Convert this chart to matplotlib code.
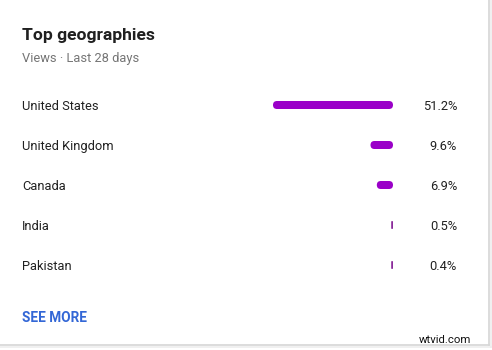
import matplotlib.pyplot as plt
from matplotlib.patches import FancyBboxPatch

countries = ["United States", "United Kingdom", "Canada", "India", "Pakistan"]
shares = [51.2, 9.6, 6.9, 0.5, 0.4]
labels = ["51.2%", "9.6%", "6.9%", "0.5%", "0.4%"]

title = "Top geographies"
subtitle = "Views · Last 28 days"
link = "SEE MORE"

BAR_COLOR = "#9a00c8"
W, H = 492, 350

plt.rcParams['font.family'] = ['Roboto', 'DejaVu Sans']

fig = plt.figure(figsize=(W / 100, H / 100), dpi=100)
fig.patch.set_facecolor("white")

# background axes in pixel coordinates for the card and the texts
bg = fig.add_axes([0, 0, 1, 1])
bg.set_xlim(0, W)
bg.set_ylim(H, 0)
bg.axis("off")

# card edges (right and bottom) with a faint shadow
bg.plot([489, 489], [0, 345], color="#d6d6d6", lw=1.2)
bg.plot([0, 489], [345, 345], color="#d6d6d6", lw=1.2)
bg.plot([490.5, 490.5], [0, 346.5], color="#ededed", lw=1.2)
bg.plot([0, 490.5], [346.5, 346.5], color="#ededed", lw=1.2)

bg.text(22, 35.5, title, fontsize=12.6, fontweight="bold", color="#202020",
        va="center", ha="left")
bg.text(22, 58.5, subtitle, fontsize=9.3, color="#757575", va="center", ha="left")
bg.text(22, 318.5, link, fontsize=9.8, fontweight="bold", color="#3367d6",
        va="center", ha="left")
bg.text(471, 340, "wtvid.com", fontsize=8.2, color="#111111",
        va="center", ha="right")

row_y = [105 + 40 * i for i in range(len(countries))]
for y, name, lab in zip(row_y, countries, labels):
    bg.text(22, y + 1.5, name, fontsize=9.3, color="#212121", va="center", ha="left")
    bg.text(457, y + 1.5, lab, fontsize=9.3, color="#212121", va="center", ha="right")

# bar axes: right aligned bars ending at x=393 px, 51.2% spans 120 px
px_per_unit = 120 / max(shares)
ax_left, ax_right = 253, 393
ax_top, ax_bottom = 85, 285
ax = fig.add_axes([ax_left / W, 1 - ax_bottom / H,
                   (ax_right - ax_left) / W, (ax_bottom - ax_top) / H])
xmax = (ax_right - ax_left) / px_per_unit
ax.set_xlim(-xmax, 0)
ax.set_ylim(len(countries) - 0.5, -0.5)
ax.axis("off")

bar_h = 8 / 40
x_per_px = 1 / px_per_unit
y_per_px = 1 / 40
for i, v in enumerate(shares):
    w = max(v, 1.8 * x_per_px)
    r = min(4 * x_per_px, w / 2)
    patch = FancyBboxPatch((-w, i - bar_h / 2), w, bar_h,
                           boxstyle=f"round,pad=0,rounding_size={r}",
                           mutation_aspect=y_per_px / x_per_px,
                           facecolor=BAR_COLOR if v > 2 else "#8a2a9a",
                           edgecolor="none")
    ax.add_patch(patch)

fig.savefig("out.png", dpi=100, facecolor="white")
